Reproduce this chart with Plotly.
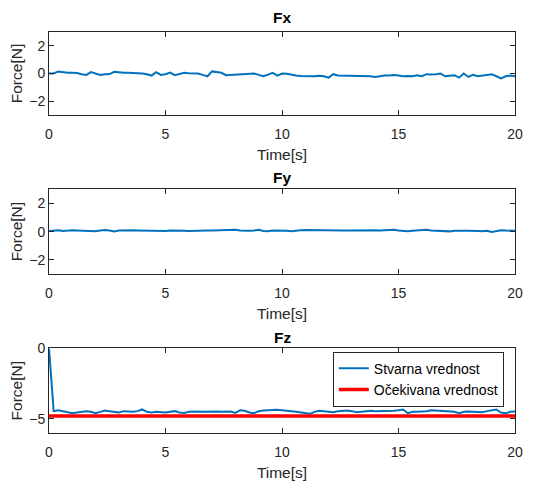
import plotly.graph_objects as go
from plotly.subplots import make_subplots

# time axis (s), sampled every 0.2 s
t = [round(i * 0.2, 1) for i in range(101)]

fx = [0.0, 0.0, 0.15, 0.08, 0.05, 0.06, 0.04, -0.05, -0.1, 0.1,
      0.0, -0.1, -0.06, -0.04, 0.12, 0.06, 0.05, 0.05, 0.04, 0.05,
      0.0, -0.05, -0.15, 0.1, -0.1, -0.05, 0.07, -0.12, -0.02, 0.05,
      0.02, 0.0, 0.0, -0.1, -0.2, 0.15, 0.1, 0.05, -0.12, -0.1,
      -0.1, -0.08, -0.05, -0.03, 0.0, -0.1, -0.2, -0.08, 0.05, -0.15,
      0.0, -0.02, -0.1, -0.15, -0.18, -0.2, -0.18, -0.2, -0.16, -0.2,
      -0.3, -0.05, -0.15, -0.16, -0.17, -0.15, -0.17, -0.16, -0.18, -0.2,
      -0.25, -0.18, -0.15, -0.14, -0.1, -0.15, -0.2, -0.18, -0.2, -0.12,
      -0.2, -0.05, -0.08, -0.05, 0.0, -0.2, -0.15, -0.12, -0.3, 0.0,
      -0.25, -0.1, -0.2, -0.15, -0.08, -0.05, -0.2, -0.35, -0.2, -0.15,
      -0.2]

fy = [0.05, 0.08, 0.1, 0.04, 0.08, 0.1, 0.09, 0.08, 0.1, 0.05,
      0.03, 0.08, 0.12, 0.08, 0.02, 0.08, 0.1, 0.11, 0.1, 0.09,
      0.08, 0.1, 0.09, 0.08, 0.03, 0.04, 0.08, 0.09, 0.1, 0.07,
      0.05, 0.06, 0.08, 0.13, 0.09, 0.08, 0.1, 0.11, 0.1, 0.12,
      0.14, 0.09, 0.05, 0.06, 0.08, 0.13, 0.05, 0.03, 0.08, 0.09,
      0.1, 0.06, 0.03, 0.08, 0.1, 0.11, 0.1, 0.09, 0.1, 0.08,
      0.09, 0.1, 0.05, 0.08, 0.09, 0.1, 0.09, 0.08, 0.09, 0.1,
      0.1, 0.08, 0.09, 0.1, 0.14, 0.08, 0.05, 0.03, 0.06, 0.08,
      0.1, 0.13, 0.09, 0.06, 0.04, 0.05, 0.02, 0.06, 0.08, 0.07,
      0.06, 0.08, 0.05, 0.03, 0.06, -0.02, 0.02, 0.1, 0.08, 0.07,
      0.06]

fz = [0.0, -4.45, -4.38, -4.45, -4.55, -4.6, -4.55, -4.5, -4.45, -4.5,
      -4.6, -4.5, -4.4, -4.45, -4.5, -4.55, -4.45, -4.5, -4.5, -4.45,
      -4.33, -4.5, -4.55, -4.5, -4.55, -4.55, -4.5, -4.45, -4.55, -4.58,
      -4.5, -4.48, -4.48, -4.5, -4.48, -4.48, -4.48, -4.5, -4.5, -4.48,
      -4.58, -4.38, -4.42, -4.55, -4.6, -4.45, -4.4, -4.38, -4.38, -4.35,
      -4.38, -4.4, -4.45, -4.5, -4.55, -4.6, -4.64, -4.5, -4.42, -4.45,
      -4.5, -4.52, -4.45, -4.42, -4.4, -4.45, -4.52, -4.5, -4.45, -4.42,
      -4.45, -4.45, -4.42, -4.4, -4.42, -4.38, -4.33, -4.6, -4.5, -4.5,
      -4.48, -4.45, -4.38, -4.4, -4.42, -4.45, -4.48, -4.5, -4.6, -4.5,
      -4.48, -4.48, -4.5, -4.52, -4.45, -4.38, -4.33, -4.55, -4.6, -4.5,
      -4.48]

fz_expected = [-4.8] * len(t)

titles = ["Fx", "Fy", "Fz"]
blue = "#0072BD"
axcol = "#262626"
font = "Liberation Sans"

fig = make_subplots(rows=3, cols=1)

fig.add_trace(go.Scatter(x=t, y=fx, mode="lines", line=dict(color=blue, width=2),
                         showlegend=False), row=1, col=1)
fig.add_trace(go.Scatter(x=t, y=fy, mode="lines", line=dict(color=blue, width=2),
                         showlegend=False), row=2, col=1)
fig.add_trace(go.Scatter(x=t, y=fz, mode="lines", line=dict(color=blue, width=2),
                         name="Stvarna vrednost"), row=3, col=1)
fig.add_trace(go.Scatter(x=t, y=fz_expected, mode="lines", line=dict(color="red", width=3.5),
                         name="Očekivana vrednost"), row=3, col=1)

# the page body adds an 8 px offset, so the figure is 8 px smaller each way
ydomains = [[0.793, 1.0], [0.3965, 0.6077], [0.0, 0.211]]
yranges = [[-3, 3], [-3, 3], [-6, 0]]
yticks = [[-2, 0, 2], [-2, 0, 2], [-5, 0]]

for i in range(3):
    fig.update_xaxes(domain=[0, 1], range=[0, 20], tickvals=[0, 5, 10, 15, 20],
                     ticks="inside", ticklen=5, automargin=False, ticklabelstandoff=6,
                     showline=True, linecolor=axcol, linewidth=1, mirror="ticks",
                     tickcolor=axcol, showgrid=False, zeroline=False,
                     tickfont=dict(size=14, color=axcol, family=font),
                     title=dict(text="Time[s]", font=dict(size=15.5, color=axcol, family=font),
                                standoff=8),
                     row=i + 1, col=1)
    fig.update_yaxes(domain=ydomains[i], range=yranges[i], tickvals=yticks[i],
                     ticks="inside", ticklen=5, automargin=False,
                     showline=True, linecolor=axcol, linewidth=1,
                     mirror="ticks", tickcolor=axcol, showgrid=False, zeroline=False,
                     tickfont=dict(size=14, color=axcol, family=font),
                     title=dict(text="Force[N]", font=dict(size=15.5, color=axcol, family=font),
                                standoff=4),
                     row=i + 1, col=1)

title_y = [17, 177, 337]
for name, py in zip(titles, title_y):
    fig.add_annotation(text="<b>" + name + "</b>", x=0.5, xref="paper",
                       y=1 - (py - 32) / 401, yref="paper", yanchor="middle",
                       showarrow=False,
                       font=dict(size=15.5, color="black", family=font))

fig.update_layout(
    width=530, height=473,
    margin=dict(l=41, r=23, t=24, b=48),
    plot_bgcolor="white", paper_bgcolor="white",
    legend=dict(x=0.976, y=0.203, xanchor="right", yanchor="top",
                bgcolor="white", bordercolor=axcol, borderwidth=1,
                font=dict(size=14, color="black", family=font), tracegroupgap=0),
)

fig.write_html("out.html")
